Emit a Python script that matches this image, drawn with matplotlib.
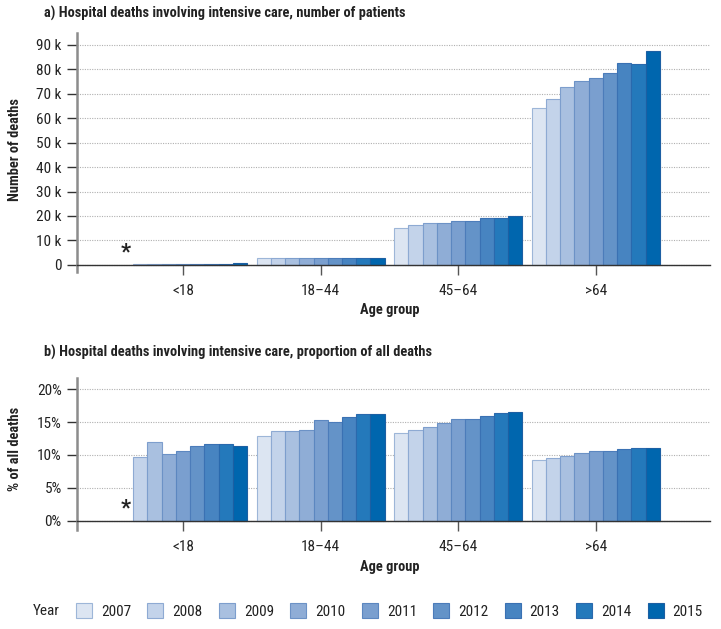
import numpy as np
import matplotlib.pyplot as plt
from matplotlib.patches import Patch
from matplotlib.ticker import FuncFormatter

plt.rcParams['font.family'] = ['Liberation Sans Narrow', 'Arial Narrow', 'Roboto Condensed',
                               'PT Sans Narrow', 'Archivo Narrow', 'Liberation Sans', 'DejaVu Sans']

age_groups = ['<18', '18–44', '45–64', '>64']
years = ['2007', '2008', '2009', '2010', '2011', '2012', '2013', '2014', '2015']

# a) number of patients per age group, 2007..2015 (<18 in 2007 not reported)
deaths_lt18 = [np.nan, 500, 500, 500, 500, 500, 500, 500, 600]
deaths_18_44 = [3000, 3000, 3000, 2900, 2800, 2700, 2700, 2700, 2800]
deaths_45_64 = [15000, 16500, 17000, 17000, 18100, 18100, 19200, 19200, 20100]
deaths_gt64 = [64100, 67800, 72800, 75300, 76400, 78300, 82500, 82200, 87300]

# b) proportion of all deaths (%)
share_lt18 = [np.nan, 9.7, 11.9, 10.2, 10.6, 11.4, 11.7, 11.6, 11.3]
share_18_44 = [12.9, 13.6, 13.6, 13.8, 15.3, 15.0, 15.7, 16.3, 16.2]
share_45_64 = [13.3, 13.8, 14.2, 14.8, 15.4, 15.4, 16.0, 16.4, 16.6]
share_gt64 = [9.2, 9.5, 9.9, 10.3, 10.6, 10.6, 10.9, 11.0, 11.0]

colors = ['#dce5f2', '#c3d3ea', '#a9c0e0', '#8fadd6', '#7a9fcf',
          '#6493c8', '#4784c1', '#2479bb', '#0066ae']
edges = ['#9db6d8', '#8eaad3', '#7d9ecd', '#6c92c6', '#5c87c0',
         '#4c7cba', '#3a71b3', '#2a69ad', '#1c5fa3']

counts = np.array([deaths_lt18, deaths_18_44, deaths_45_64, deaths_gt64])
shares = np.array([share_lt18, share_18_44, share_45_64, share_gt64])

fig = plt.figure(figsize=(7.21, 6.29), dpi=100)
ax1 = fig.add_axes([77 / 721, 1 - 272 / 629, 633 / 721, 239 / 629])
ax2 = fig.add_axes([77 / 721, 1 - 530 / 629, 633 / 721, 152 / 629])

w = 0.1035
x = np.arange(len(age_groups))
txt = '#222222'


def draw(ax, data, ylim, yticks, fmt):
    for i in range(len(years)):
        ax.bar(x + (i - 4) * w, data[:, i], width=w, color=colors[i],
               edgecolor=edges[i], linewidth=0.8, zorder=3)
    ax.set_xlim(-0.771, 3.83)
    ax.set_ylim(*ylim)
    ax.set_yticks(yticks)
    ax.yaxis.set_major_formatter(FuncFormatter(fmt))
    ax.set_xticks(x, age_groups)
    for s in ['top', 'right']:
        ax.spines[s].set_visible(False)
    ax.spines['left'].set_color('#8c8c8c')
    ax.spines['left'].set_linewidth(1.8)
    ax.spines['bottom'].set_position(('data', 0))
    ax.spines['bottom'].set_color('#333333')
    ax.spines['bottom'].set_linewidth(1.0)
    ax.spines['bottom'].set_zorder(4)
    ax.tick_params(axis='y', length=7, width=1, color='#333333', pad=4,
                   labelsize=11, labelcolor=txt)
    ax.tick_params(axis='x', length=7.5, width=1, color='#555555', pad=6.5,
                   labelsize=11, labelcolor=txt)
    ax.yaxis.grid(True, linestyle=(0, (1, 1.2)), color='#b0b0b0', linewidth=0.8)
    ax.set_axisbelow(True)
    # asterisk where the 2007 value for <18 is missing
    ax.annotate('*', (x[0] - 4 * w, 0), xytext=(0, 1), textcoords='offset points',
                ha='center', va='bottom', fontsize=16, fontweight='bold', color=txt)


draw(ax1, counts, (-2900, 94800), np.arange(0, 90001, 10000),
     lambda v, p: '0' if v == 0 else f'{int(v / 1000)} k')
draw(ax2, shares, (-1.4, 21.7), np.arange(0, 21, 5),
     lambda v, p: f'{int(v)}%')

bold = dict(fontsize=10.4, fontweight='bold', color=txt)
fig.text(44 / 721, 1 - 13 / 629,
         'a) Hospital deaths involving intensive care, number of patients',
         va='center', **bold)
fig.text(44 / 721, 1 - 352 / 629,
         'b) Hospital deaths involving intensive care, proportion of all deaths',
         va='center', **bold)
fig.text(15 / 721, 1 - 150 / 629, 'Number of deaths', rotation=90,
         ha='center', va='center', **bold)
fig.text(15 / 721, 1 - 449 / 629, '% of all deaths', rotation=90,
         ha='center', va='center', **bold)
fig.text(390 / 721, 1 - 310 / 629, 'Age group', ha='center', va='center', **bold)
fig.text(390 / 721, 1 - 567 / 629, 'Age group', ha='center', va='center', **bold)

# legend
fig.text(33 / 721, 1 - 611 / 629, 'Year', fontsize=11, color=txt, va='center')
handles = [Patch(facecolor=colors[i], edgecolor=edges[i], linewidth=0.8)
           for i in range(len(years))]
fig.legend(handles, years, loc='center left', bbox_to_anchor=(76 / 721, 1 - 611 / 629),
           ncol=9, frameon=False, fontsize=11, handlelength=1.05, handleheight=1.1,
           handletextpad=0.6, columnspacing=1.05, borderpad=0, borderaxespad=0,
           labelcolor=txt)

fig.savefig('out.png', dpi=100)
